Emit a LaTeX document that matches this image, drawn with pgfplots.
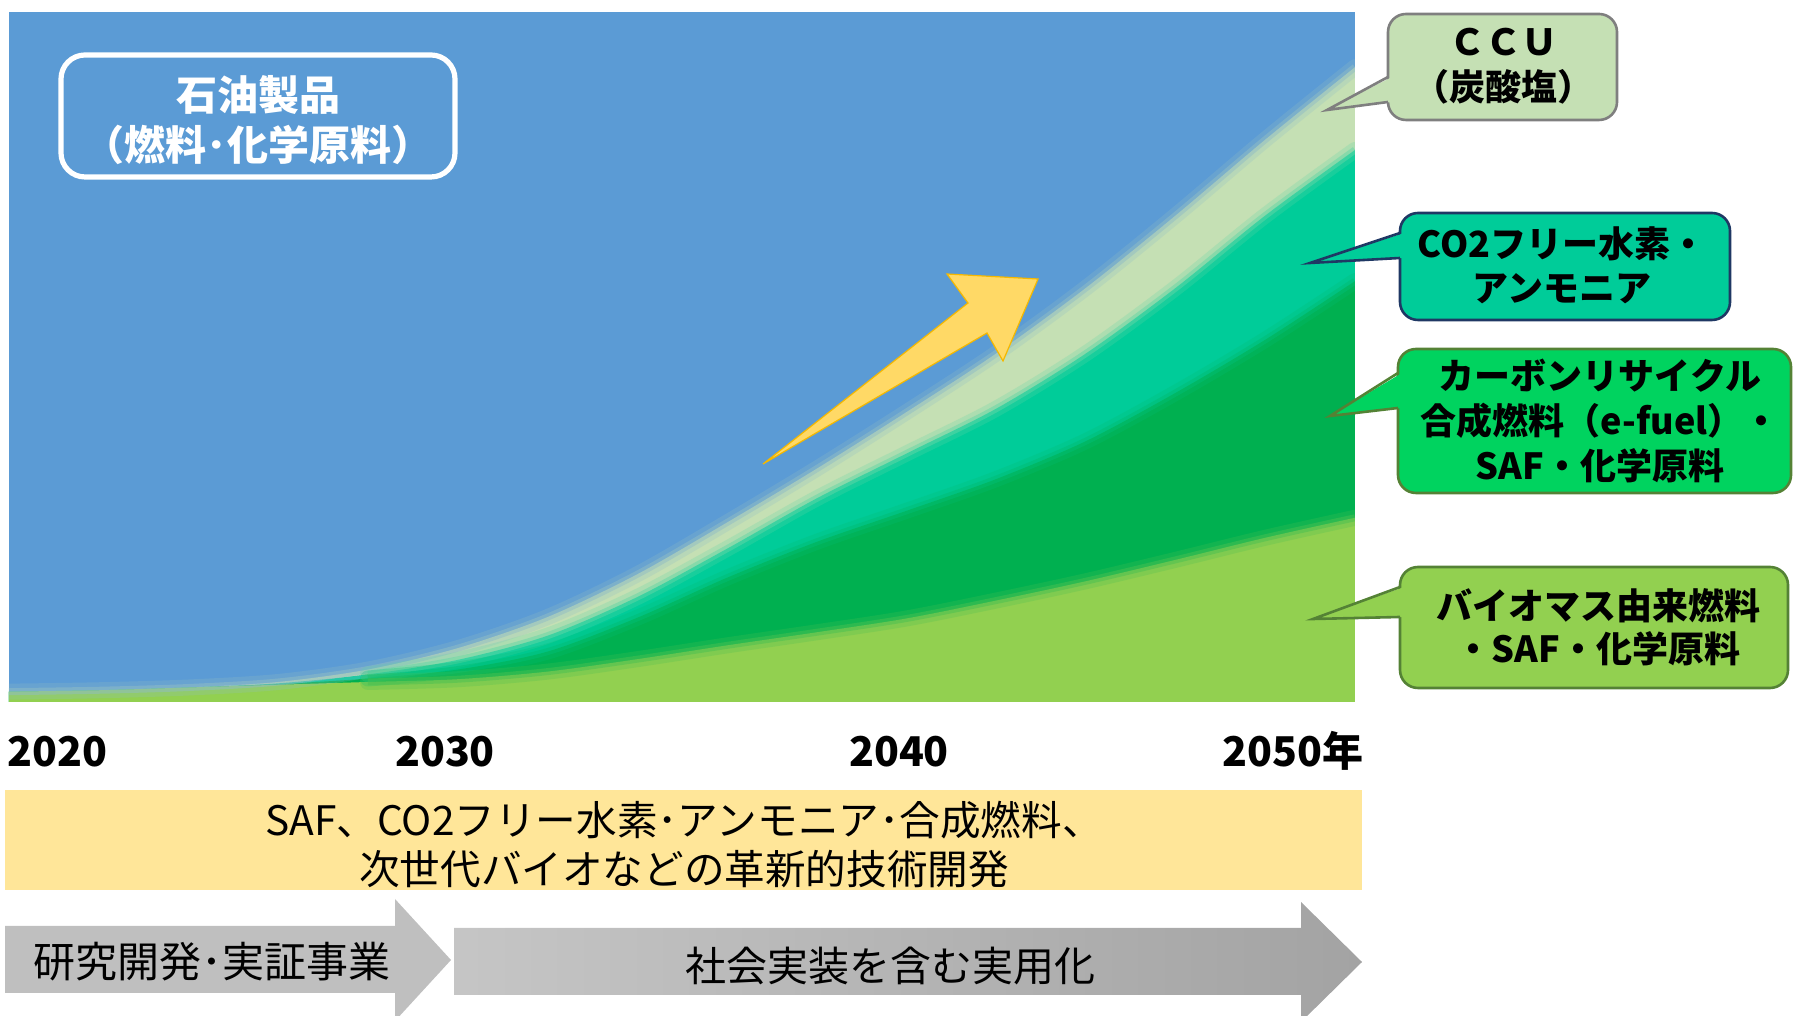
\documentclass[border=0pt]{standalone}
\usepackage{pgfplots}
\pgfplotsset{compat=1.18}
\usepackage{fontspec}
\newfontfamily\jp{Noto Sans CJK JP}
\definecolor{cblue}{HTML}{5B9BD5}
\definecolor{cpale}{HTML}{C5E0B4}
\definecolor{cteal}{HTML}{00CC99}
\definecolor{cdk}{HTML}{00B050}
\definecolor{clt}{HTML}{92D050}
\definecolor{ccr}{HTML}{00D35F}
\definecolor{cnavy}{HTML}{1F3864}
\definecolor{colive}{HTML}{548235}
\definecolor{cgrayb}{HTML}{7F7F7F}
\definecolor{cyel}{HTML}{FFE699}
\definecolor{carrow}{HTML}{FFD966}
\definecolor{carrowb}{HTML}{F5B800}
\definecolor{cg1}{HTML}{BFBFBF}
\definecolor{cg2}{HTML}{A3A3A3}
\pgfplotstableread{
year B1 B2 B3 B4
2020 1.5 1.5 1.5 1.5
2022 1.7 1.7 1.7 1.7
2024 2.1 2.1 2.1 2.1
2026 2.5 2.6 2.7 2.9
2028 2.9 3.4 4.0 4.7
2030 3.3 4.7 6.1 7.8
2032 4.4 7.3 9.6 12.3
2034 6.2 12.2 15.2 18.5
2036 8.2 18.0 22.2 26.0
2038 10.1 23.2 29.5 33.8
2040 12.1 27.7 36.0 42.0
2042 14.7 32.3 42.5 50.5
2044 17.5 37.8 50.5 60.0
2046 20.6 44.8 60.0 70.5
2048 23.8 52.5 70.5 81.5
2050 26.7 61.0 80.0 92.0
}\data
\pgfplotstableread{
year B1 B2 B3 B4
2028 2.9 3.4 4.0 4.7
2030 3.3 4.7 6.1 7.8
2032 4.4 7.3 9.6 12.3
2034 6.2 12.2 15.2 18.5
2036 8.2 18.0 22.2 26.0
2038 10.1 23.2 29.5 33.8
2040 12.1 27.7 36.0 42.0
2042 14.7 32.3 42.5 50.5
2044 17.5 37.8 50.5 60.0
2046 20.6 44.8 60.0 70.5
2048 23.8 52.5 70.5 81.5
2050 26.7 61.0 80.0 92.0
}\edge
\begin{document}
\begin{tikzpicture}
\path[use as bounding box] (0,0) rectangle (896.5pt,508pt);
\begin{axis}[at={(4.5pt,157pt)}, anchor=south west, width=673pt, height=345pt,
  scale only axis, xmin=2020, xmax=2050, ymin=0, ymax=100, hide axis, clip=true]
% petroleum products (top, fills to 100%)
\addplot[fill=cblue, draw=none] coordinates {(2020,100) (2050,100)} \closedcycle;
\addplot[fill=cpale, draw=none, smooth] table[x=year,y=B4] {\data} \closedcycle;
\addplot[fill=cteal, draw=none, smooth] table[x=year,y=B3] {\data} \closedcycle;
\addplot[fill=cdk, draw=none, smooth] table[x=year,y=B2] {\data} \closedcycle;
\addplot[fill=clt, draw=none, smooth] table[x=year,y=B1] {\data} \closedcycle;
% soft edges
\addplot[draw=cblue!50!cpale, line width=8pt, opacity=0.25, smooth, line cap=round] table[x=year,y=B4] {\data};
\addplot[draw=cblue!50!cpale, line width=3.5pt, opacity=0.5, smooth] table[x=year,y=B4] {\data};
\addplot[draw=cpale!50!cteal, line width=8pt, opacity=0.25, smooth, line cap=round] table[x=year,y=B3] {\edge};
\addplot[draw=cpale!50!cteal, line width=3.5pt, opacity=0.5, smooth] table[x=year,y=B3] {\edge};
\addplot[draw=cteal!50!cdk, line width=8pt, opacity=0.25, smooth, line cap=round] table[x=year,y=B2] {\edge};
\addplot[draw=cteal!50!cdk, line width=3.5pt, opacity=0.5, smooth] table[x=year,y=B2] {\edge};
\addplot[draw=cdk!50!clt, line width=8pt, opacity=0.25, smooth, line cap=round] table[x=year,y=B1] {\edge};
\addplot[draw=cdk!50!clt, line width=3.5pt, opacity=0.5, smooth] table[x=year,y=B1] {\edge};
\end{axis}
\begin{scope}[x=0.5pt, y=-0.5pt, yshift=508pt]
% clean right edge of the chart area
\fill[white] (1355,0) rectangle (1380,720);
% yellow growth arrow
\filldraw[fill=carrow, draw=carrowb, line width=0.6pt, line join=miter]
  (763,464) -- (968,303) -- (947,274) -- (1038,279) -- (1003,361) -- (987,333) -- cycle;
% petroleum label box
\draw[white, line width=2.6pt, rounded corners=12pt] (61,55) rectangle (455,177);
\node[white, font=\jp\bfseries\fontsize{20.5pt}{25pt}\selectfont, align=center] at (258,120)
  {石油製品\\（燃料･化学原料）};
% CCU callout
\filldraw[fill=cpale, draw=cgrayb, line width=1.3pt, rounded corners=9pt] (1388,14) rectangle (1617,120);
\fill[cpale] (1392,77) -- (1327,110) -- (1392,102) -- cycle;
\draw[cgrayb, line width=1.3pt, line join=miter] (1388,77) -- (1327,110) -- (1388,102);
\node[font=\jp\bfseries\fontsize{18pt}{22.5pt}\selectfont, align=center] at (1503,66) {ＣＣＵ\\（炭酸塩）};
% CO2-free callout
\filldraw[fill=cteal, draw=cnavy, line width=1.3pt, rounded corners=9pt] (1400,213) rectangle (1730,320);
\fill[cteal] (1404,233) -- (1310,263) -- (1404,258) -- cycle;
\draw[cnavy, line width=1.3pt, line join=miter] (1400,233) -- (1310,263) -- (1400,258);
\node[font=\jp\bfseries\fontsize{18pt}{22pt}\selectfont, align=center] at (1562,265) {CO2フリー水素・\\アンモニア};
% carbon recycling callout
\filldraw[fill=ccr, draw=colive, line width=1.3pt, rounded corners=9pt] (1398,349) rectangle (1791,493);
\fill[ccr] (1402,373) -- (1330,416) -- (1402,408) -- cycle;
\draw[colive, line width=1.3pt, line join=miter] (1398,373) -- (1330,416) -- (1398,408);
\node[font=\jp\bfseries\fontsize{18pt}{22.5pt}\selectfont, align=center] at (1600,421) {カーボンリサイクル\\合成燃料（e-fuel）・\\SAF・化学原料};
% biomass callout
\filldraw[fill=clt, draw=colive, line width=1.3pt, rounded corners=9pt] (1400,567) rectangle (1788,688);
\fill[clt] (1404,587) -- (1313,619) -- (1404,617) -- cycle;
\draw[colive, line width=1.3pt, line join=miter] (1400,587) -- (1313,619) -- (1400,617);
\node[font=\jp\bfseries\fontsize{18pt}{21.5pt}\selectfont, align=center] at (1598,627) {バイオマス由来燃料\\・SAF・化学原料};
% year labels
\node[font=\jp\bfseries\fontsize{20.5pt}{24pt}\selectfont, anchor=base west, inner sep=0pt] at (7,767) {2020};
\node[font=\jp\bfseries\fontsize{20.5pt}{24pt}\selectfont, anchor=base, inner sep=0pt] at (445,767) {2030};
\node[font=\jp\bfseries\fontsize{20.5pt}{24pt}\selectfont, anchor=base, inner sep=0pt] at (899,767) {2040};
\node[font=\jp\bfseries\fontsize{20.5pt}{24pt}\selectfont, anchor=base east, inner sep=0pt] at (1364,767) {2050年};
% yellow band
\fill[cyel] (5,790) rectangle (1362,890);
\node[font=\jp\fontsize{20.3pt}{24.5pt}\selectfont, align=center] at (684,845)
  {SAF、CO2フリー水素･アンモニア･合成燃料、\\次世代バイオなどの革新的技術開発};
% grey arrows
\fill[cg1] (5,926) -- (395,926) -- (395,899) -- (451,960) -- (395,1021) -- (395,993) -- (5,993) -- cycle;
\shade[left color=cg1!90!white, right color=cg2] (454,928) -- (1301,928) -- (1301,902) -- (1362,962) -- (1301,1022) -- (1301,995) -- (454,995) -- cycle;
\node[font=\jp\fontsize{21pt}{24pt}\selectfont] at (212,962) {研究開発･実証事業};
\node[font=\jp\fontsize{20.5pt}{24pt}\selectfont] at (890,966) {社会実装を含む実用化};
\end{scope}
\end{tikzpicture}
\end{document}
